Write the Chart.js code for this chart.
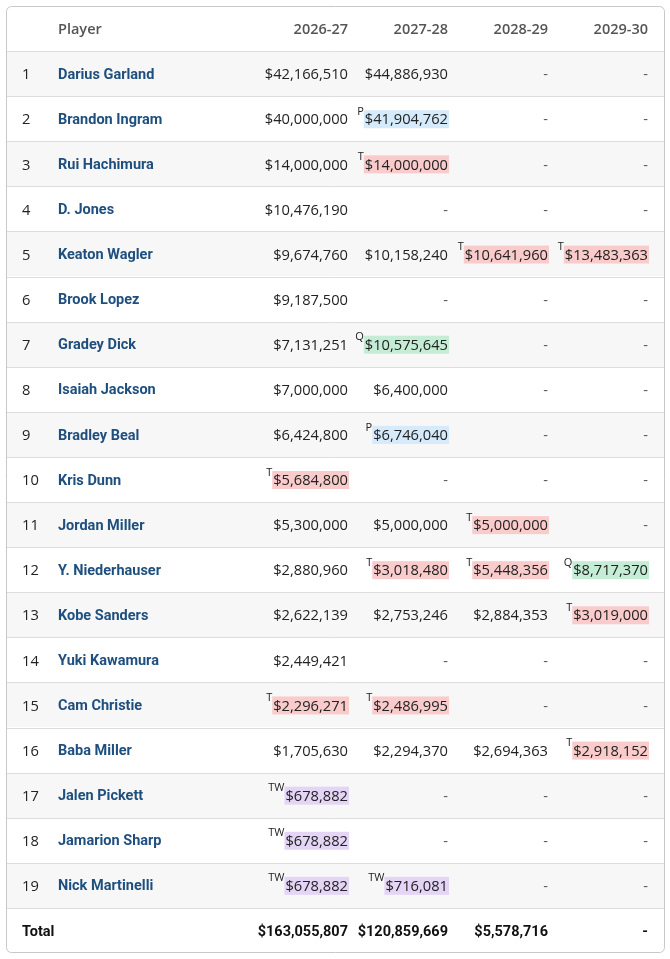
<!DOCTYPE html>
<html>
<head>
<meta charset="utf-8">
<script src="https://cdn.jsdelivr.net/npm/chart.js"></script>
<style>
  html, body { margin: 0; padding: 0; background: #fff; }
  #wrap { width: 670px; height: 959px; }
</style>
</head>
<body>
<div id="wrap"><canvas id="tbl" width="670" height="959"></canvas></div>
<script>
// Table data
const seasons = ['2026-27', '2027-28', '2028-29', '2029-30'];
const players = [
  'Darius Garland', 'Brandon Ingram', 'Rui Hachimura', 'D. Jones', 'Keaton Wagler',
  'Brook Lopez', 'Gradey Dick', 'Isaiah Jackson', 'Bradley Beal', 'Kris Dunn',
  'Jordan Miller', 'Y. Niederhauser', 'Kobe Sanders', 'Yuki Kawamura', 'Cam Christie',
  'Baba Miller', 'Jalen Pickett', 'Jamarion Sharp', 'Nick Martinelli'
];
const salary2026 = [42166510, 40000000, 14000000, 10476190, 9674760, 9187500, 7131251, 7000000, 6424800, 5684800,
  5300000, 2880960, 2622139, 2449421, 2296271, 1705630, 678882, 678882, 678882];
const salary2027 = [44886930, 41904762, 14000000, null, 10158240, null, 10575645, 6400000, 6746040, null,
  5000000, 3018480, 2753246, null, 2486995, 2294370, null, null, 716081];
const salary2028 = [null, null, null, null, 10641960, null, null, null, null, null,
  5000000, 5448356, 2884353, null, null, 2694363, null, null, null];
const salary2029 = [null, null, null, null, 13483363, null, null, null, null, null,
  null, 8717370, 3019000, null, null, 2918152, null, null, null];
// contract option flags (T = team, P = player, Q = qualifying, TW = two-way)
const option2026 = ['', '', '', '', '', '', '', '', '', 'T', '', '', '', '', 'T', '', 'TW', 'TW', 'TW'];
const option2027 = ['', 'P', 'T', '', '', '', 'Q', '', 'P', '', '', 'T', '', '', 'T', '', '', '', 'TW'];
const option2028 = ['', '', '', '', 'T', '', '', '', '', '', 'T', 'T', '', '', '', '', '', '', ''];
const option2029 = ['', '', '', '', 'T', '', '', '', '', '', '', 'Q', 'T', '', '', 'T', '', '', ''];
const totals = [163055807, 120859669, 5578716, null];

const salaries = [salary2026, salary2027, salary2028, salary2029];
const options = [option2026, option2027, option2028, option2029];
const rowKeys = ['head'].concat(players.map((p, i) => String(i + 1)), ['Total']);

const optColors = { T: '#f9cbcb', P: '#d5eafa', Q: '#c5ecd4', TW: '#e4d5f6' };
const moneyFont = '14.7px "Open Sans", sans-serif';
const totalFont = 'bold 14.5px Roboto, sans-serif';
const dy = 1.5; // nudge text down to the optical middle of each row
const fmt = v => '$' + v.toLocaleString('en-US');

// one dataset per season, a point per cell (players + total row)
const datasets = seasons.map((s, j) => {
  const pts = players.map((p, i) => ({ x: s, y: String(i + 1), v: salaries[j][i], opt: options[j][i] }));
  pts.push({ x: s, y: 'Total', v: totals[j], opt: '', total: true });
  return { label: s, data: pts, pointRadius: 0, showLine: false };
});

const tablePlugin = {
  id: 'tablePlugin',
  beforeDraw(chart) {
    const ctx = chart.ctx;
    const y = chart.scales.y;
    const rowH = y.getPixelForValue(1) - y.getPixelForValue(0);
    const left = 6.5, right = 664.5;
    const top = Math.round(y.getPixelForValue(0) - rowH / 2) + 0.5;
    const bottom = Math.round(y.getPixelForValue(rowKeys.length - 1) + rowH / 2) - 0.5;
    ctx.save();
    ctx.fillStyle = '#fff';
    ctx.fillRect(left, top, right - left, bottom - top);
    // striped rows
    players.forEach((p, i) => {
      if (i % 2 === 0) {
        const c = y.getPixelForValue(i + 1);
        ctx.fillStyle = '#f7f7f7';
        ctx.fillRect(left, Math.round(c - rowH / 2), right - left, Math.round(rowH));
      }
    });
    // row separators
    ctx.strokeStyle = '#dddddd';
    ctx.lineWidth = 1;
    for (let k = 1; k < rowKeys.length; k++) {
      const yy = Math.round(y.getPixelForValue(k) - rowH / 2) + 0.5;
      ctx.beginPath();
      ctx.moveTo(left, yy);
      ctx.lineTo(right, yy);
      ctx.stroke();
    }
    // border
    ctx.strokeStyle = '#c8c8c8';
    ctx.beginPath();
    ctx.roundRect(left, top, right - left, bottom - top, 5);
    ctx.stroke();
    ctx.restore();
  },
  afterDatasetsDraw(chart) {
    const ctx = chart.ctx;
    const x = chart.scales.x, y = chart.scales.y;
    const colW = x.getPixelForValue(1) - x.getPixelForValue(0);
    ctx.save();
    ctx.textBaseline = 'middle';

    // header
    const hy = y.getPixelForValue(0) + dy;
    ctx.fillStyle = '#555';
    ctx.font = '600 14.5px "Open Sans", sans-serif';
    ctx.textAlign = 'left';
    ctx.fillText('Player', 58, hy);
    ctx.textAlign = 'right';
    seasons.forEach((s, j) => ctx.fillText(s, x.getPixelForValue(j) + colW / 2 - 8, hy));

    // rank + player columns
    players.forEach((p, i) => {
      const cy = y.getPixelForValue(i + 1) + dy;
      ctx.textAlign = 'left';
      ctx.fillStyle = '#222';
      ctx.font = moneyFont;
      ctx.fillText(String(i + 1), 22, cy);
      ctx.fillStyle = '#1e4f7e';
      ctx.font = 'bold 14.5px Roboto, sans-serif';
      ctx.fillText(p, 58, cy);
    });
    const ty = y.getPixelForValue(rowKeys.length - 1) + dy;
    ctx.fillStyle = '#111';
    ctx.font = totalFont;
    ctx.textAlign = 'left';
    ctx.fillText('Total', 22, ty);

    // salary cells, placed at each point's scale position
    chart.data.datasets.forEach((ds, d) => {
      const meta = chart.getDatasetMeta(d);
      meta.data.forEach((el, i) => {
        const cell = ds.data[i];
        const xr = el.x + colW / 2 - 8;
        const cy = el.y + dy;
        ctx.textAlign = 'right';
        if (cell.v == null) {
          ctx.fillStyle = cell.total ? '#111' : '#555';
          ctx.font = cell.total ? totalFont : moneyFont;
          ctx.fillText('-', xr, cy);
          return;
        }
        const txt = fmt(cell.v);
        ctx.font = cell.total ? totalFont : moneyFont;
        const w = ctx.measureText(txt).width;
        if (cell.opt) {
          ctx.fillStyle = optColors[cell.opt];
          ctx.fillRect(xr - w - 1, cy - 10, w + 2, 18);
          ctx.fillStyle = '#222';
          ctx.font = '11px "Open Sans", sans-serif';
          ctx.textBaseline = 'top';
          ctx.fillText(cell.opt, xr - w - 1, cy - 14);
          ctx.textBaseline = 'middle';
          ctx.font = moneyFont;
        }
        ctx.fillStyle = cell.total ? '#111' : '#222';
        ctx.fillText(txt, xr, cy);
      });
    });
    ctx.restore();
  }
};

new Chart(document.getElementById('tbl'), {
  type: 'scatter',
  data: { datasets: datasets },
  options: {
    responsive: false,
    animation: false,
    events: [],
    layout: { padding: { left: 256, right: 14, top: 6, bottom: 6 } },
    plugins: { legend: { display: false }, tooltip: { enabled: false } },
    scales: {
      x: { type: 'category', labels: seasons, offset: true, display: false },
      y: { type: 'category', labels: rowKeys, offset: true, display: false }
    }
  },
  plugins: [tablePlugin]
});
</script>
</body>
</html>
